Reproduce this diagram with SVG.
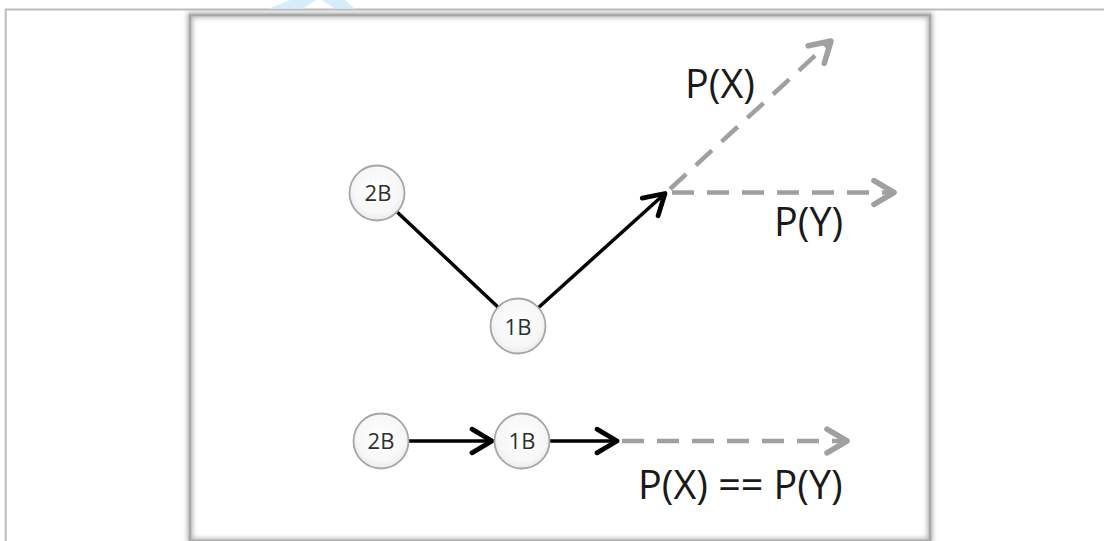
<svg xmlns="http://www.w3.org/2000/svg" width="1104" height="541" viewBox="0 0 1104 541">
<style>
.lbl{font-family:"Open Sans","Liberation Sans",sans-serif;font-size:39.5px;fill:#1a1a1a}
.nl{font-family:"Open Sans","Liberation Sans",sans-serif;font-size:22px;fill:#2e2e2e;text-anchor:middle}
.node{fill:url(#ng);stroke:#a6a6a6;stroke-width:1.8}
.solid{stroke:#000;stroke-width:3.5;fill:none}
.dash{stroke:#a0a0a0;stroke-width:4.5;fill:none;stroke-dasharray:22 13}
</style>
<defs>
<radialGradient id="ng" cx="0.5" cy="0.45" r="0.6">
<stop offset="0" stop-color="#ffffff"/>
<stop offset="0.7" stop-color="#f7f7f7"/>
<stop offset="1" stop-color="#e6e6e6"/>
</radialGradient>
<filter id="sh" x="-10%" y="-10%" width="120%" height="120%">
<feGaussianBlur stdDeviation="2.5"/>
</filter>
<marker id="ab" markerUnits="userSpaceOnUse" markerWidth="30" markerHeight="30" viewBox="-20 -12 24 24" refX="0" refY="0" orient="auto">
<path d="M-16,-9.5 L0,0 L-16,9.5" fill="none" stroke="#000" stroke-width="3.8" stroke-linecap="round" stroke-linejoin="round"/>
</marker>
<marker id="ag" markerUnits="userSpaceOnUse" markerWidth="30" markerHeight="30" viewBox="-20 -12 24 24" refX="0" refY="0" orient="auto">
<path d="M-16,-9.5 L0,0 L-16,9.5" fill="none" stroke="#a0a0a0" stroke-width="4.5" stroke-linecap="round" stroke-linejoin="round"/>
</marker>
</defs>
<rect width="1104" height="541" fill="#fff"/>
<line x1="5" y1="9.5" x2="1104" y2="9.5" stroke="#bdbdbd" stroke-width="2"/>
<line x1="5.7" y1="9" x2="5.7" y2="541" stroke="#bdbdbd" stroke-width="2"/>
<polygon points="268,9 290,0 316,0 302,9" fill="#d6eefb"/>
<polygon points="335,9 322,0 345,0 355,9" fill="#d6eefb"/>
<rect x="178" y="11" width="765" height="530" fill="#fff"/>
<rect x="190" y="15" width="740" height="526" fill="none" stroke="#9a9a9a" stroke-width="5" filter="url(#sh)" opacity="0.8"/>
<rect x="190" y="15" width="740" height="526" fill="none" stroke="#a8a8a8" stroke-width="2.5"/>
<g id="connectors">
<line class="solid" x1="396.6" y1="211.5" x2="498.4" y2="307.5"/>
<line class="solid" x1="538" y1="308" x2="665" y2="193.5" marker-end="url(#ab)"/>
<line class="dash" x1="670" y1="189" x2="831" y2="41" marker-end="url(#ag)"/>
<line class="dash" x1="672" y1="192.5" x2="894" y2="192.5" marker-end="url(#ag)"/>
<line class="solid" x1="409" y1="441" x2="492" y2="441" marker-end="url(#ab)"/>
<line class="solid" x1="550" y1="441" x2="617" y2="441" marker-end="url(#ab)"/>
<line class="dash" x1="622" y1="441" x2="847" y2="441" marker-end="url(#ag)"/>
</g>
<g id="node-2B-top">
<circle class="node" cx="377" cy="193" r="27.5"/>
<text class="nl" x="378" y="201">2B</text>
</g>
<g id="node-1B-top">
<circle class="node" cx="518" cy="326" r="27.5"/>
<text class="nl" x="518" y="335">1B</text>
</g>
<g id="node-2B-bottom">
<circle class="node" cx="381" cy="441" r="27.5"/>
<text class="nl" x="381" y="449">2B</text>
</g>
<g id="node-1B-bottom">
<circle class="node" cx="522" cy="441" r="27.5"/>
<text class="nl" x="522" y="449">1B</text>
</g>
<g id="labels">
<text class="lbl" x="685" y="98">P(X)</text>
<text class="lbl" x="774" y="236">P(Y)</text>
<text class="lbl" x="638" y="499">P(X) == P(Y)</text>
</g>
</svg>
